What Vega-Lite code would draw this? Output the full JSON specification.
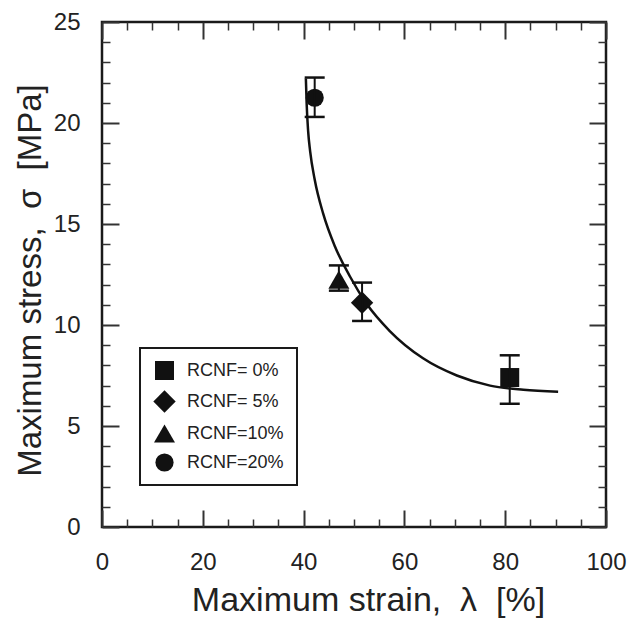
{
  "$schema": "https://vega.github.io/schema/vega-lite/v6.json",
  "width": 504,
  "height": 505,
  "autosize": "none",
  "padding": {"left": 102, "top": 22, "right": 25, "bottom": 95},
  "background": "white",
  "config": {
    "view": {"stroke": "#1a1a1a", "strokeWidth": 2.5},
    "font": "Liberation Sans",
    "axis": {
      "domain": false,
      "grid": false,
      "labelFont": "Liberation Sans",
      "labelFontSize": 24,
      "labelColor": "#222",
      "labelFlush": false,
      "tickColor": "#333",
      "titleFont": "Liberation Sans",
      "titleFontSize": 33,
      "titleFontWeight": "normal",
      "titleColor": "#222"
    },
    "legend": {
      "labelFont": "Liberation Sans",
      "labelFontSize": 18,
      "labelColor": "#222",
      "symbolFillColor": "#111",
      "symbolStrokeColor": "#111",
      "symbolStrokeWidth": 0,
      "strokeColor": "#1a1a1a",
      "strokeWidth": 2,
      "padding": 13,
      "rowPadding": 10,
      "labelOffset": 11
    }
  },
  "datasets": {
    "curve": [
      {"strain": 40.45, "stress": 22.2},
      {"strain": 40.6, "stress": 21.0},
      {"strain": 40.9, "stress": 19.6},
      {"strain": 41.3, "stress": 18.6},
      {"strain": 42.2, "stress": 17.2},
      {"strain": 43.9, "stress": 15.5},
      {"strain": 46.2, "stress": 13.9},
      {"strain": 49.2, "stress": 12.4},
      {"strain": 52.5, "stress": 11.05},
      {"strain": 57.1, "stress": 9.7},
      {"strain": 63.7, "stress": 8.35},
      {"strain": 70.4, "stress": 7.5},
      {"strain": 77.0, "stress": 7.0},
      {"strain": 83.6, "stress": 6.8},
      {"strain": 90.5, "stress": 6.7}
    ],
    "points": [
      {"cnf": "RCNF= 0%", "strain": 80.9, "stress": 7.4, "lo": 6.1, "hi": 8.5},
      {"cnf": "RCNF= 5%", "strain": 51.6, "stress": 11.1, "lo": 10.2, "hi": 12.1},
      {"cnf": "RCNF=10%", "strain": 47.0, "stress": 12.25, "lo": 11.7, "hi": 12.95},
      {"cnf": "RCNF=20%", "strain": 42.2, "stress": 21.25, "lo": 20.3, "hi": 22.25}
    ]
  },
  "layer": [
    {
      "data": {"name": "curve"},
      "mark": {"type": "line", "interpolate": "monotone", "color": "#111", "strokeWidth": 2.5},
      "encoding": {
        "x": {
          "field": "strain", "type": "quantitative",
          "scale": {"domain": [0, 100], "nice": false, "zero": false},
          "axis": {"orient": "bottom", "values": [0, 20, 40, 60, 80, 100], "tickSize": -17, "tickWidth": 2, "labelPadding": 40, "title": "Maximum strain,\u00a0 λ \u00a0[%]", "titleFontSize": 34, "titlePadding": 9, "titleX": 266}
        },
        "y": {
          "field": "stress", "type": "quantitative",
          "scale": {"domain": [0, 25], "nice": false, "zero": false},
          "axis": {"orient": "left", "values": [0, 5, 10, 15, 20, 25], "tickSize": -17, "tickWidth": 2, "labelPadding": 39, "title": "Maximum stress,\u00a0 σ \u00a0[MPa]", "titlePadding": 6, "titleY": 258}
        }
      }
    },
    {
      "data": {"name": "points"},
      "mark": {"type": "point", "filled": true, "color": "#111", "opacity": 1},
      "encoding": {
        "x": {
          "field": "strain", "type": "quantitative",
          "scale": {"domain": [0, 100], "nice": false, "zero": false},
          "axis": {"orient": "top", "values": [0, 20, 40, 60, 80, 100], "tickSize": -17, "tickWidth": 2, "labels": false, "title": null}
        },
        "y": {
          "field": "stress", "type": "quantitative",
          "scale": {"domain": [0, 25], "nice": false, "zero": false},
          "axis": {"orient": "right", "values": [0, 5, 10, 15, 20, 25], "tickSize": -17, "tickWidth": 2, "labels": false, "title": null}
        },
        "shape": {
          "field": "cnf", "type": "nominal",
          "scale": {"domain": ["RCNF= 0%", "RCNF= 5%", "RCNF=10%", "RCNF=20%"], "range": ["square", "diamond", "triangle-up", "circle"]},
          "legend": {"orient": "none", "legendX": 38, "legendY": 326, "title": null, "labelFontSize": 18}
        },
        "size": {
          "field": "cnf", "type": "nominal",
          "scale": {"type": "ordinal", "domain": ["RCNF= 0%", "RCNF= 5%", "RCNF=10%", "RCNF=20%"], "range": [360, 500, 440, 330]},
          "legend": {"orient": "none", "legendX": 38, "legendY": 326, "title": null, "labelFontSize": 18}
        }
      }
    },
    {
      "data": {"name": "points"},
      "mark": {"type": "rule", "color": "#111", "strokeWidth": 2},
      "encoding": {
        "x": {
          "field": "strain", "type": "quantitative",
          "scale": {"domain": [0, 100], "nice": false, "zero": false},
          "axis": {"orient": "bottom", "values": [5, 10, 15, 25, 30, 35, 45, 50, 55, 65, 70, 75, 85, 90, 95], "tickSize": -8, "tickWidth": 1.5, "labels": false, "title": null}
        },
        "y": {
          "field": "lo", "type": "quantitative",
          "scale": {"domain": [0, 25], "nice": false, "zero": false},
          "axis": {"orient": "left", "values": [1, 2, 3, 4, 6, 7, 8, 9, 11, 12, 13, 14, 16, 17, 18, 19, 21, 22, 23, 24], "tickSize": -8, "tickWidth": 1.5, "labels": false, "title": null}
        },
        "y2": {"field": "hi"}
      }
    },
    {
      "data": {"name": "points"},
      "mark": {"type": "tick", "orient": "horizontal", "color": "#111", "size": 20, "thickness": 2.5, "opacity": 1},
      "encoding": {
        "x": {
          "field": "strain", "type": "quantitative",
          "scale": {"domain": [0, 100], "nice": false, "zero": false},
          "axis": {"orient": "top", "values": [5, 10, 15, 25, 30, 35, 45, 50, 55, 65, 70, 75, 85, 90, 95], "tickSize": -8, "tickWidth": 1.5, "labels": false, "title": null}
        },
        "y": {
          "field": "hi", "type": "quantitative",
          "scale": {"domain": [0, 25], "nice": false, "zero": false},
          "axis": {"orient": "right", "values": [1, 2, 3, 4, 6, 7, 8, 9, 11, 12, 13, 14, 16, 17, 18, 19, 21, 22, 23, 24], "tickSize": -8, "tickWidth": 1.5, "labels": false, "title": null}
        }
      }
    },
    {
      "data": {"name": "points"},
      "mark": {"type": "tick", "orient": "horizontal", "color": "#111", "size": 20, "thickness": 2.5, "opacity": 1},
      "encoding": {
        "x": {
          "field": "strain", "type": "quantitative",
          "scale": {"domain": [0, 100], "nice": false, "zero": false},
          "axis": null
        },
        "y": {
          "field": "lo", "type": "quantitative",
          "scale": {"domain": [0, 25], "nice": false, "zero": false},
          "axis": null
        }
      }
    }
  ],
  "resolve": {"axis": {"x": "independent", "y": "independent"}}
}
